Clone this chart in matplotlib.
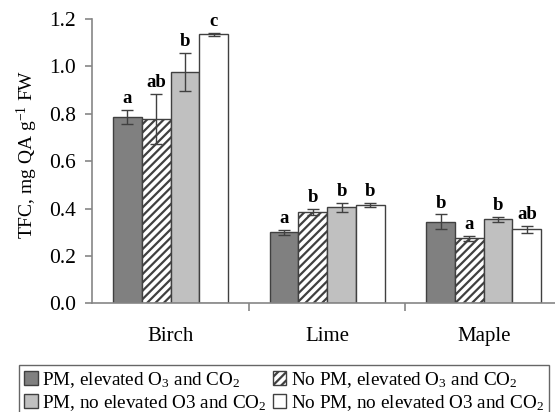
import matplotlib
matplotlib.use("Agg")
import matplotlib.pyplot as plt
import numpy as np

plt.rcParams['font.family'] = ['Liberation Serif', 'DejaVu Serif']
plt.rcParams['mathtext.fontset'] = 'custom'
plt.rcParams['mathtext.rm'] = 'Liberation Serif'
plt.rcParams['mathtext.it'] = 'Liberation Serif:italic'
plt.rcParams['mathtext.bf'] = 'Liberation Serif:bold'
plt.rcParams['hatch.linewidth'] = 1.6

categories = ["Birch", "Lime", "Maple"]
series_names = ["PM, elevated O$_3$ and CO$_2$",
                "No PM, elevated O$_3$ and CO$_2$",
                "PM, no elevated O3 and CO$_2$",
                "No PM, no elevated O3 and CO$_2$"]
pm_elev = [0.785, 0.300, 0.345]
nopm_elev = [0.778, 0.385, 0.275]
pm_noelev = [0.978, 0.405, 0.355]
nopm_noelev = [1.135, 0.415, 0.312]
err_pm_elev = [0.030, 0.010, 0.030]
err_nopm_elev = [0.105, 0.013, 0.010]
err_pm_noelev = [0.080, 0.018, 0.010]
err_nopm_noelev = [0.005, 0.010, 0.015]
letters_pm_elev = ["a", "a", "b"]
letters_nopm_elev = ["ab", "b", "a"]
letters_pm_noelev = ["b", "b", "b"]
letters_nopm_noelev = ["c", "b", "ab"]
yticks = [0.0, 0.2, 0.4, 0.6, 0.8, 1.0, 1.2]

values = [pm_elev, nopm_elev, pm_noelev, nopm_noelev]
errors = [err_pm_elev, err_nopm_elev, err_pm_noelev, err_nopm_noelev]
letters = [letters_pm_elev, letters_nopm_elev, letters_pm_noelev, letters_nopm_noelev]
fills = ["#808080", "white", "#c0c0c0", "white"]
hatches = [None, "////", None, None]

W, H = 555, 412
fig = plt.figure(figsize=(W / 100, H / 100), dpi=100)
ax_left, ax_right = 92.3, 562.0
ax_top, ax_bot = 19.0, 303.3
ax = fig.add_axes([ax_left / W, 1 - ax_bot / H, (ax_right - ax_left) / W, (ax_bot - ax_top) / H])

x = np.arange(len(categories))
group = 0.735
bw = group / 4
edge = "#404040"
handles = []
for i in range(4):
    pos = x - group / 2 + bw * (i + 0.5)
    b = ax.bar(pos, values[i], bw, color=fills[i], edgecolor=edge, linewidth=1.0,
               hatch=hatches[i], label=series_names[i], zorder=2)
    handles.append(b)
    ax.errorbar(pos, values[i], yerr=errors[i], fmt='none', ecolor="#404040",
                elinewidth=1.0, capsize=4, capthick=1.0, zorder=3)
    for p, v, e, t in zip(pos, values[i], errors[i], letters[i]):
        ax.text(p, v + e + 0.012, t, ha='center', va='bottom', fontsize=13.5,
                fontweight='bold')

ax.set_xlim(-0.5, 2.5)
ax.set_ylim(0, 1.2)
ax.set_yticks(yticks)
ax.set_yticklabels([f"{t:.1f}" for t in yticks], fontsize=15.5)
ax.set_xticks(x)
ax.set_xticklabels(categories, fontsize=15)
ax.set_xticks([0.5, 1.5, 2.5], minor=True)
ax.tick_params(axis='x', which='major', length=0, pad=17)
ax.tick_params(axis='x', which='minor', length=6, width=1.2, color="#868686", direction='out')
ax.tick_params(axis='y', which='major', length=5, width=1.2, color="#868686", direction='out', pad=7)
for s in ['top', 'right']:
    ax.spines[s].set_visible(False)
for s in ['left', 'bottom']:
    ax.spines[s].set_color("#868686")
    ax.spines[s].set_linewidth(1.2)
ax.set_ylabel("TFC, mg QA g$^{-1}$ FW", fontsize=14)
ax.yaxis.set_label_coords((40 - ax_left) / (ax_right - ax_left),
                          (ax_bot - 154) / (ax_bot - ax_top))

order = [0, 2, 1, 3]
leg = fig.legend([handles[k] for k in order], [series_names[k] for k in order],
                 loc='upper left', bbox_to_anchor=(19.3 / W, 1 - 365 / H),
                 ncol=2, fontsize=13.8, frameon=True, fancybox=False,
                 handlelength=0.7, handleheight=0.7, handletextpad=0.25,
                 columnspacing=0.3, borderpad=0.25, labelspacing=0.17,
                 borderaxespad=0)
leg.get_frame().set_edgecolor("#404040")
leg.get_frame().set_linewidth(1.0)

fig.savefig("out.png", dpi=100)
